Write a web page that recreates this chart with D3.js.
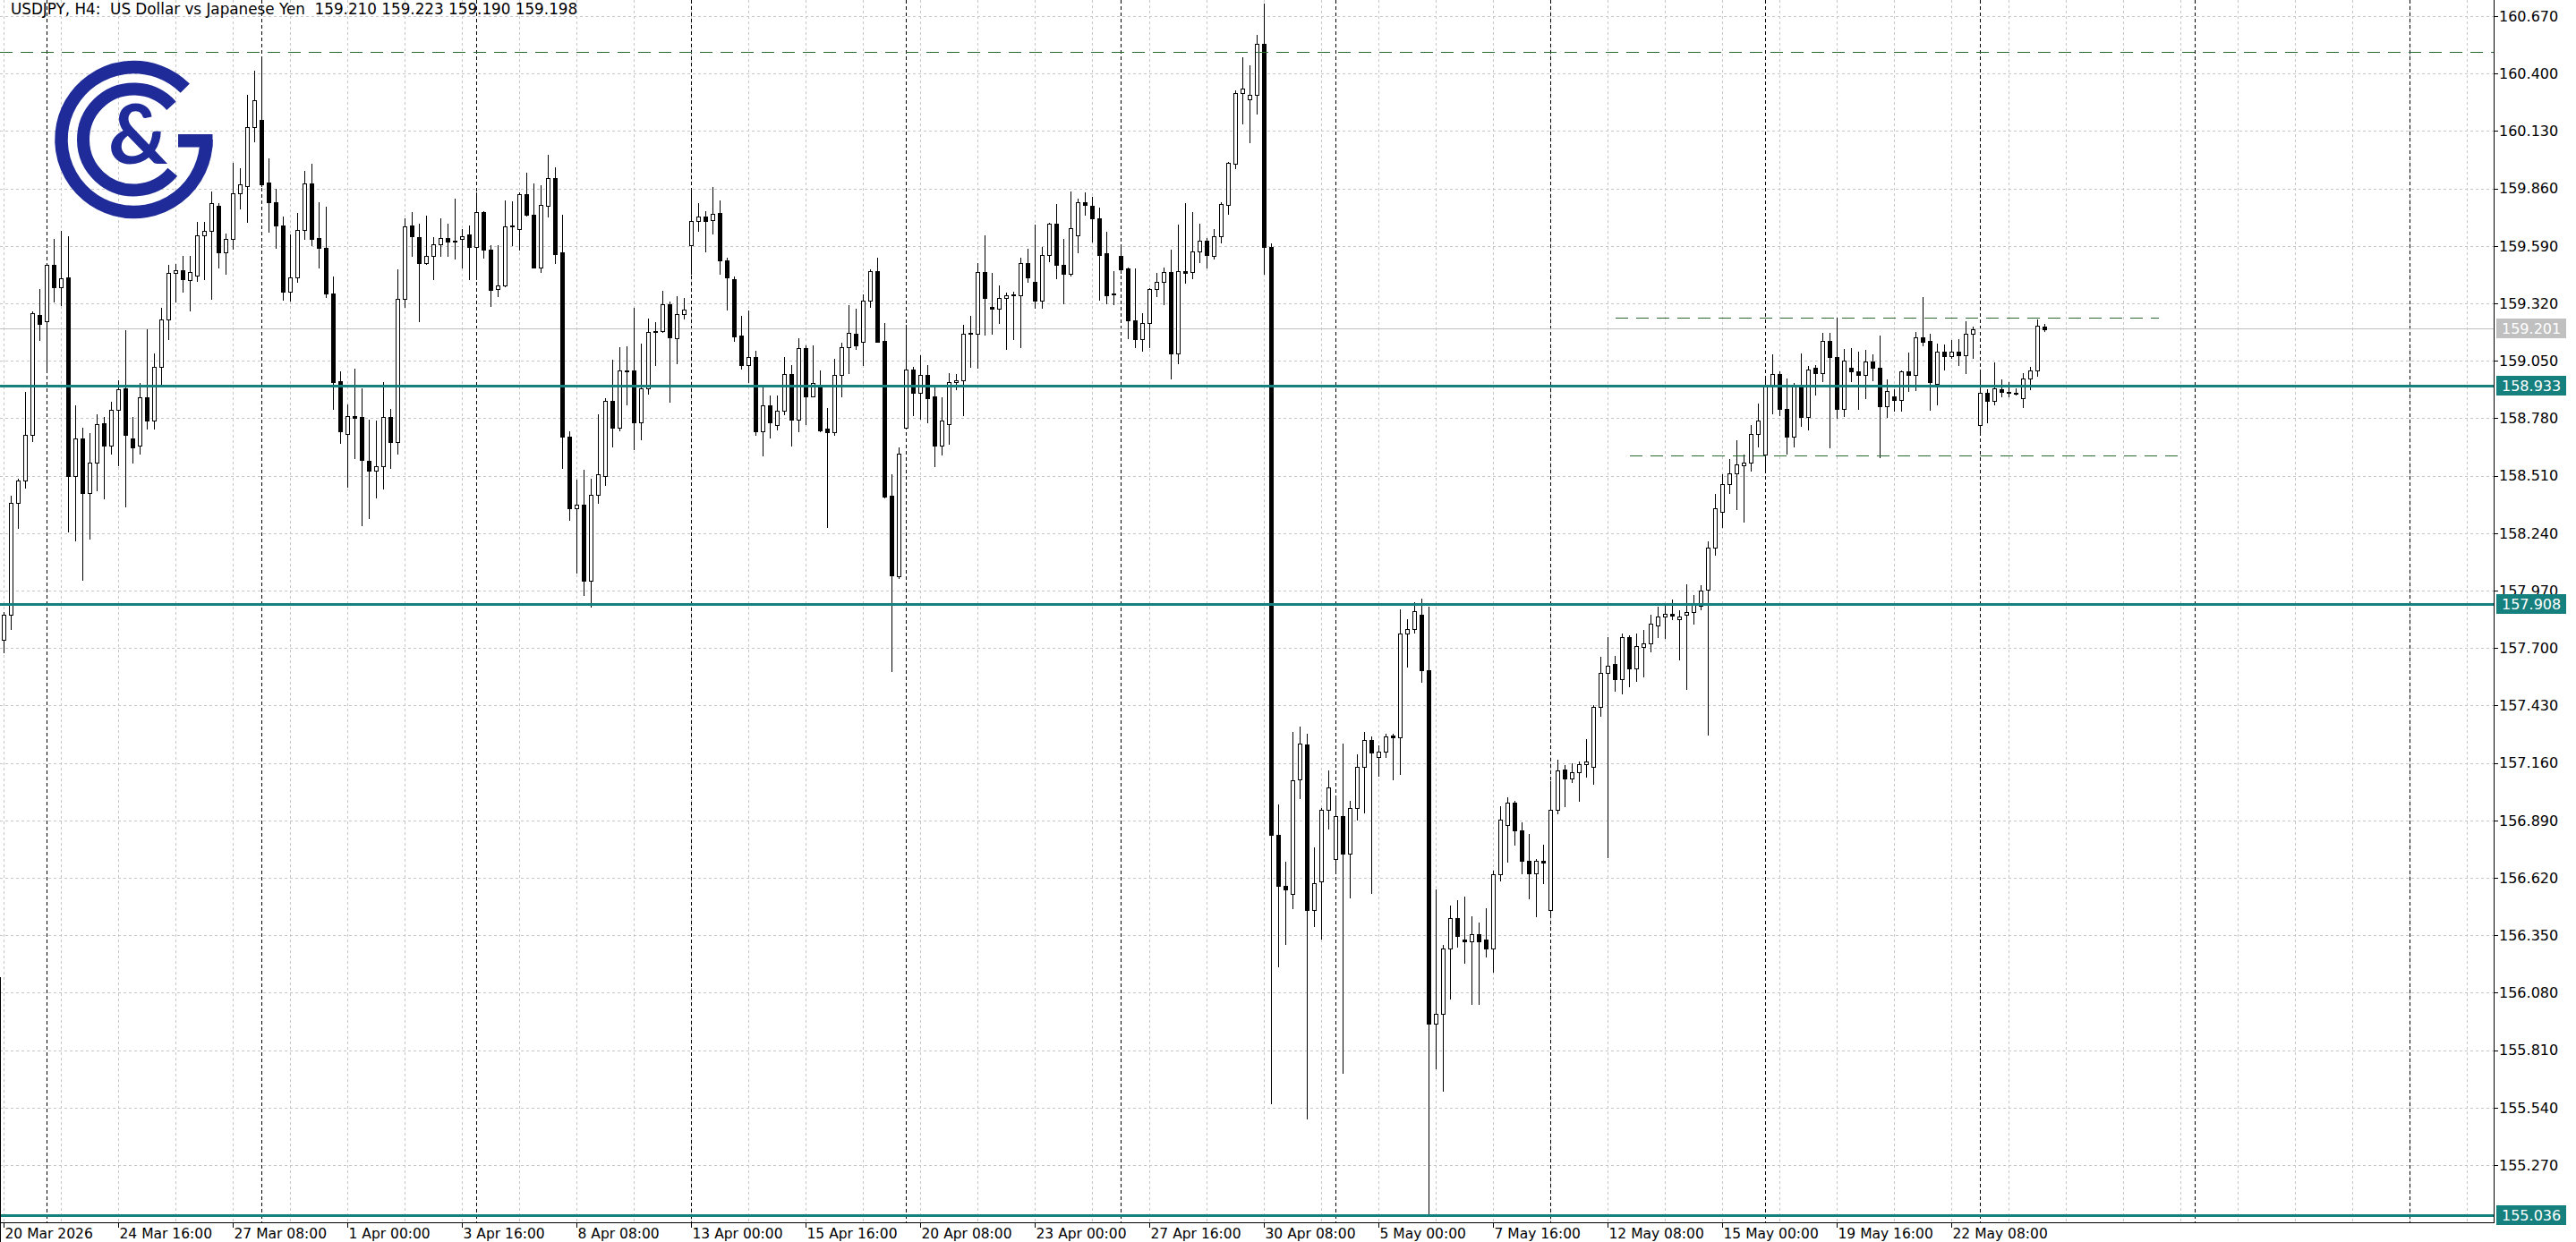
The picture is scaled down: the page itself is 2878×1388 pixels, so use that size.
<!DOCTYPE html>
<html><head><meta charset="utf-8">
<script src="https://cdn.jsdelivr.net/npm/d3@7"></script>
<style>html,body{margin:0;padding:0;background:#fff;overflow:hidden}</style>
</head><body>
<svg id="chart" width="2878" height="1388"></svg>
<script>
// ---------------- DATA ----------------
const chartTitle = "USDJPY, H4:  US Dollar vs Japanese Yen  159.210 159.223 159.190 159.198";
const timeLabels = ["20 Mar 2026","24 Mar 16:00","27 Mar 08:00","1 Apr 00:00","3 Apr 16:00","8 Apr 08:00",
  "13 Apr 00:00","15 Apr 16:00","20 Apr 08:00","23 Apr 00:00","27 Apr 16:00","30 Apr 08:00",
  "5 May 00:00","7 May 16:00","12 May 08:00","15 May 00:00","19 May 16:00","22 May 08:00"];
const timeLabelBars = [0,16,32,48,64,80,96,112,128,144,160,176,192,208,224,240,256,272];
const priceTicks = [160.670,160.400,160.130,159.860,159.590,159.320,159.050,158.780,158.510,158.240,
  157.970,157.700,157.430,157.160,156.890,156.620,156.350,156.080,155.810,155.540,155.270];

const opens = [
157.740,157.858,158.381,158.487,158.700,159.267,159.236,159.502,159.396,159.444,
158.508,158.686,158.429,158.570,158.758,158.652,158.818,158.921,158.686,158.650,
158.880,158.771,159.022,159.245,159.461,159.474,159.431,159.450,159.639,159.662,
159.780,159.559,159.621,159.839,159.873,160.149,160.184,159.887,159.794,159.688,
159.373,159.444,159.664,159.882,159.628,159.579,159.368,158.955,158.708,158.790,
158.786,158.580,158.532,158.553,158.786,158.670,159.343,159.684,159.631,159.511,
159.541,159.598,159.625,159.609,159.621,159.643,159.583,159.748,159.571,159.388,
159.406,159.681,159.669,159.834,159.738,159.490,159.778,159.908,159.558,158.694,
158.356,158.374,158.015,158.421,158.507,158.862,158.736,159.005,159.005,158.762,
158.919,159.187,159.190,159.317,159.157,159.268,159.592,159.705,159.726,159.711,
159.745,159.523,159.433,159.167,159.028,159.067,158.717,158.840,158.747,158.817,
158.988,158.774,159.108,158.882,158.930,158.730,158.714,158.983,159.112,159.176,
159.141,159.332,159.471,159.144,158.415,158.038,158.734,159.010,158.898,158.983,
158.882,158.650,158.753,158.951,158.959,159.176,159.176,159.466,159.302,159.294,
159.345,159.361,159.358,159.509,159.422,159.332,159.546,159.694,159.503,159.457,
159.639,159.795,159.777,159.721,159.555,159.367,159.541,159.484,159.239,159.151,
159.229,159.387,159.420,159.469,159.083,159.472,159.466,159.562,159.616,159.544,
159.634,159.781,159.975,160.310,160.277,160.300,160.538,159.586,156.822,156.581,
156.543,157.084,157.245,156.471,156.602,156.941,156.710,156.910,156.733,156.948,
157.143,157.269,157.190,157.214,157.290,157.279,157.769,157.791,157.857,157.595,
155.933,155.981,156.286,156.429,156.329,156.322,156.357,156.329,156.286,156.636,
156.869,156.972,156.845,156.702,156.643,156.700,156.470,156.938,157.128,157.087,
157.115,157.156,157.141,157.424,157.585,157.624,157.554,157.752,157.604,157.707,
157.720,157.807,157.850,157.859,157.837,157.856,157.868,157.900,157.974,158.170,
158.340,158.470,158.520,158.559,158.572,158.707,158.609,158.936,158.988,158.825,
158.692,158.929,158.784,159.017,158.994,159.144,159.066,158.822,159.019,159.001,
158.982,159.045,159.017,158.837,158.881,158.865,159.001,158.982,159.162,159.143,
158.940,159.092,159.071,159.092,159.078,159.176,158.748,158.898,158.860,158.915,
158.902,158.898,158.874,158.968,159.003,159.210];

const highs = [
157.870,158.416,158.496,158.903,159.284,159.387,159.510,159.621,159.662,159.635,
158.841,158.735,158.709,158.797,158.785,158.859,158.957,159.192,158.788,158.944,
159.199,159.086,159.298,159.500,159.506,159.541,159.541,159.704,159.704,159.846,
159.790,159.647,159.979,159.954,160.299,160.413,160.468,160.002,159.860,159.729,
159.643,159.744,159.942,159.977,159.794,159.774,159.448,159.001,158.843,159.012,
158.921,158.775,158.768,158.948,158.823,159.478,159.718,159.748,159.694,159.733,
159.631,159.718,159.694,159.812,159.669,159.688,159.842,159.755,159.594,159.594,
159.804,159.800,159.842,159.933,159.884,159.876,160.020,159.959,159.735,158.717,
158.491,158.536,158.496,158.799,158.874,159.054,159.112,159.119,159.298,159.130,
159.247,159.232,159.377,159.329,159.352,159.344,159.854,159.791,159.753,159.866,
159.803,159.535,159.445,159.262,159.287,159.097,158.927,158.886,158.886,159.068,
159.028,159.157,159.124,159.124,159.004,158.827,159.059,159.133,159.313,159.294,
159.361,159.482,159.535,159.227,158.516,158.645,159.219,159.023,159.076,159.028,
158.930,158.878,158.994,158.988,159.219,159.261,159.511,159.640,159.461,159.405,
159.369,159.374,159.535,159.578,159.691,159.586,159.699,159.785,159.624,159.845,
159.812,159.840,159.819,159.772,159.657,159.472,159.592,159.490,159.484,159.274,
159.390,159.462,159.487,159.574,159.691,159.792,159.751,159.694,159.627,159.669,
159.797,159.985,160.322,160.475,160.438,160.583,160.728,159.600,156.964,156.695,
157.305,157.329,157.298,156.762,156.948,157.124,157.000,157.250,156.983,157.202,
157.305,157.286,157.243,157.298,157.298,157.881,157.834,157.917,157.933,157.893,
156.567,156.305,156.488,156.517,156.531,156.441,156.410,156.476,156.655,156.957,
157.000,156.981,156.881,156.826,156.710,156.774,157.073,157.174,157.150,157.160,
157.165,157.271,157.433,157.659,157.752,157.665,157.767,157.760,157.770,157.785,
157.855,157.896,157.900,157.928,157.878,157.998,157.948,157.994,158.202,158.424,
158.516,158.590,158.677,158.609,158.747,158.849,158.966,159.080,159.001,158.966,
158.947,159.084,159.025,159.029,159.183,159.183,159.253,159.106,159.108,159.092,
159.101,159.080,159.169,158.963,158.916,159.003,159.087,159.187,159.348,159.176,
159.131,159.127,159.148,159.152,159.235,159.211,158.994,158.916,159.043,158.963,
158.949,158.921,158.994,159.022,159.246,159.223];

const lows = [
157.680,157.790,158.266,158.452,158.673,159.146,159.004,159.329,159.311,158.248,
158.204,158.021,158.216,158.443,158.402,158.615,158.558,158.367,158.570,158.615,
158.730,158.730,158.939,159.151,159.329,159.376,159.288,159.426,159.435,159.343,
159.488,159.458,159.577,159.766,159.704,160.081,159.870,159.658,159.579,159.338,
159.331,159.421,159.624,159.594,159.489,159.349,158.823,158.663,158.457,158.592,
158.277,158.310,158.407,158.448,158.547,158.613,159.304,159.544,159.238,159.504,
159.433,159.541,159.544,159.529,159.489,159.433,159.433,159.534,159.308,159.353,
159.398,159.594,159.574,159.733,159.487,159.468,159.730,159.508,158.548,158.301,
158.056,157.951,157.895,158.383,158.466,158.649,158.721,158.844,158.634,158.679,
158.894,159.028,159.187,158.859,159.037,159.247,159.460,159.660,159.562,159.648,
159.460,159.292,159.145,159.014,158.949,158.702,158.607,158.691,158.727,158.800,
158.650,158.717,158.753,158.882,158.717,158.270,158.701,158.882,158.991,159.104,
159.028,159.305,159.140,158.407,157.591,158.030,158.730,158.795,158.779,158.762,
158.556,158.608,158.661,158.918,158.795,159.023,159.018,159.171,159.176,159.229,
159.107,159.152,159.115,159.422,159.300,159.300,159.517,159.439,159.319,159.450,
159.559,159.736,159.609,159.338,159.319,159.316,159.462,159.154,159.116,159.098,
159.112,159.352,159.314,158.966,159.037,159.417,159.436,159.514,159.489,159.532,
159.607,159.742,159.957,160.167,160.077,160.212,159.457,155.559,156.202,156.310,
156.476,156.995,155.488,156.393,156.333,156.852,156.655,155.702,156.529,156.893,
156.929,156.548,157.100,157.186,157.083,157.107,157.612,157.774,157.543,155.036,
155.726,155.619,156.052,156.298,156.219,156.029,156.029,156.250,156.179,156.607,
156.695,156.774,156.643,156.524,156.441,156.595,156.440,156.925,156.956,157.069,
156.984,157.097,157.063,157.382,156.717,157.498,157.485,157.522,157.545,157.567,
157.683,157.752,157.748,157.837,157.646,157.508,157.813,157.881,157.295,158.140,
158.270,158.429,158.353,158.294,158.535,158.649,158.525,158.803,158.794,158.614,
158.649,158.744,158.729,158.893,158.954,158.643,158.780,158.790,158.954,158.822,
158.874,158.959,158.598,158.786,158.814,158.814,158.907,158.912,159.124,158.821,
158.846,159.008,159.064,159.029,158.994,159.064,158.720,158.762,158.846,158.884,
158.884,158.893,158.832,158.916,158.980,159.190];

const closes = [
157.858,158.381,158.487,158.700,159.272,159.222,159.502,159.396,159.438,158.508,
158.686,158.429,158.570,158.753,158.652,158.818,158.918,158.700,158.643,158.880,
158.771,159.022,159.245,159.461,159.474,159.435,159.467,159.639,159.662,159.789,
159.559,159.621,159.839,159.878,160.149,160.273,159.880,159.794,159.688,159.373,
159.444,159.664,159.882,159.624,159.579,159.368,158.952,158.718,158.790,158.783,
158.583,158.532,158.553,158.786,158.670,159.343,159.681,159.634,159.511,159.541,
159.598,159.625,159.609,159.616,159.634,159.583,159.748,159.571,159.384,159.406,
159.681,159.684,159.834,159.738,159.490,159.783,159.908,159.553,158.694,158.356,
158.374,158.015,158.421,158.517,158.862,158.736,159.005,158.999,158.762,158.922,
159.187,159.190,159.317,159.160,159.268,159.292,159.705,159.726,159.708,159.742,
159.523,159.441,159.164,159.028,159.067,158.717,158.840,158.762,158.817,158.988,
158.774,159.108,158.882,158.947,158.725,158.714,158.983,159.112,159.181,159.124,
159.332,159.471,159.141,158.412,158.041,158.613,159.007,158.898,158.983,158.875,
158.653,158.769,158.951,158.959,159.176,159.180,159.466,159.345,159.294,159.345,
159.356,159.356,159.509,159.442,159.332,159.546,159.694,159.502,159.457,159.672,
159.795,159.781,159.721,159.549,159.356,159.361,159.481,159.239,159.151,159.229,
159.387,159.420,159.466,159.083,159.472,159.462,159.562,159.616,159.549,159.634,
159.787,159.980,160.310,160.328,160.298,160.538,159.586,156.822,156.583,156.567,
157.079,157.250,156.471,156.595,156.941,157.043,156.910,156.733,156.948,157.143,
157.269,157.207,157.214,157.286,157.281,157.769,157.791,157.874,157.595,155.933,
155.981,156.286,156.429,156.345,156.322,156.357,156.322,156.286,156.636,156.893,
156.972,156.845,156.702,156.643,156.702,156.690,156.938,157.123,157.087,157.115,
157.156,157.165,157.424,157.585,157.619,157.554,157.752,157.604,157.711,157.724,
157.813,157.850,157.859,157.852,157.850,157.868,157.902,157.970,158.170,158.355,
158.470,158.520,158.562,158.572,158.707,158.770,158.936,158.988,158.825,158.692,
158.936,158.784,159.010,158.994,159.144,159.066,158.822,159.050,159.001,158.982,
159.045,159.017,158.837,158.907,158.865,159.001,158.982,159.162,159.141,158.951,
159.092,159.071,159.092,159.078,159.176,159.197,158.898,158.860,158.921,158.902,
158.898,158.895,158.968,159.003,159.214,159.198];

const levelPrices = [158.933, 157.908, 155.036];   // teal horizontal levels
const bidPrice = 159.201;                           // current bid line
const resistancePrice = 160.503;                    // long dashed level
const rangeTopPrice = 159.252, rangeTopBars = [225.0, 300.9];
const rangeBottomPrice = 158.607, rangeBottomBars = [227.1, 304.2];

// ---------------- DRAW ----------------
const W = 2878, H = 1388, plotR = 2786, plotB = 1366;
const FONT = "'DejaVu Sans', Verdana, sans-serif";
const TEAL = "#16807e", LINEDASH = "#2a6a32";
const svg = d3.select("#chart");

const x = d3.scaleLinear().domain([0, 1]).range([4.5, 12.5]);
const y = d3.scaleLinear().domain([155.27, 160.67]).range([1302.1, 18]);
const py = v => Math.round(y(v)) + 0.5;

svg.append("rect").attr("width", W).attr("height", H).attr("fill", "#fff");

const grid = svg.append("g").attr("shape-rendering", "crispEdges");
grid.selectAll("line.h").data(priceTicks).join("line").attr("class", "h")
  .attr("x1", 0).attr("x2", plotR).attr("y1", d => py(d)).attr("y2", d => py(d))
  .attr("stroke", "#c6c6c6").attr("stroke-dasharray", "3,3");
const maxBar = Math.floor(x.invert(plotR));
const gridBars = d3.range(0, maxBar + 1, 8);
grid.selectAll("line.v").data(gridBars).join("line").attr("class", "v")
  .attr("x1", d => x(d)).attr("x2", d => x(d)).attr("y1", 0).attr("y2", plotB)
  .attr("stroke", "#c6c6c6").attr("stroke-dasharray", "3,3");
const weekBars = d3.range(6, maxBar + 1, 30);
grid.selectAll("line.s").data(weekBars).join("line").attr("class", "s")
  .attr("x1", d => x(d)).attr("x2", d => x(d)).attr("y1", 0).attr("y2", plotB)
  .attr("stroke", "#000").attr("stroke-dasharray", "4,3");

// logo
const logo = svg.append("g").attr("fill", "none").attr("stroke", "#1f2b98");
const lcx = 149.5, lcy = 156;
const pt = (r, a) => [lcx + r * Math.cos(a * Math.PI / 180), lcy + r * Math.sin(a * Math.PI / 180)];
{
  const r1 = 81, a = pt(r1, -45), b = pt(r1, 0);
  logo.append("path").attr("d", `M${a[0]},${a[1]}A${r1},${r1} 0 1 0 ${b[0]},${b[1]}`).attr("stroke-width", 14.5);
  logo.append("rect").attr("x", 199).attr("y", 150).attr("width", 38.5).attr("height", 14.5)
    .attr("fill", "#1f2b98").attr("stroke", "none");
  const r2 = 56.5, c = pt(r2, -42), e = pt(r2, 40);
  logo.append("path").attr("d", `M${c[0]},${c[1]}A${r2},${r2} 0 1 0 ${e[0]},${e[1]}`).attr("stroke-width", 14);
  logo.append("text").attr("x", 154).attr("y", 183).attr("text-anchor", "middle")
    .attr("font-family", "Lato, 'DejaVu Sans', sans-serif").attr("font-weight", 700)
    .attr("font-size", 92).attr("fill", "#1f2b98").attr("stroke", "none").text("&");
}

// bid line
svg.append("line").attr("x1", 0).attr("x2", plotR).attr("y1", py(bidPrice)).attr("y2", py(bidPrice))
  .attr("stroke", "#c0c0c0").attr("shape-rendering", "crispEdges");

// candles
const bars = d3.range(opens.length);
const cg = svg.append("g").attr("shape-rendering", "crispEdges");
cg.selectAll("line.wick").data(bars).join("line").attr("class", "wick")
  .attr("x1", i => x(i)).attr("x2", i => x(i))
  .attr("y1", i => Math.round(y(highs[i]))).attr("y2", i => Math.round(y(lows[i])) + 1)
  .attr("stroke", "#000");
cg.selectAll("path.body").data(bars).join("path").attr("class", "body")
  .attr("d", i => {
    const top = Math.round(y(Math.max(opens[i], closes[i]))) + 0.5;
    const bot = Math.round(y(Math.min(opens[i], closes[i]))) + 0.5;
    return `M${x(i) - 2},${top}h4V${bot}h-4Z`;
  })
  .attr("fill", i => closes[i] >= opens[i] ? "#fff" : "#000").attr("stroke", "#000");

// dashed levels
const dl = svg.append("g").attr("stroke", LINEDASH).attr("stroke-dasharray", "14,9").attr("shape-rendering", "crispEdges");
dl.append("line").attr("x1", 0).attr("x2", plotR).attr("y1", py(resistancePrice)).attr("y2", py(resistancePrice));
dl.append("line").attr("x1", x(rangeTopBars[0])).attr("x2", x(rangeTopBars[1]))
  .attr("y1", py(rangeTopPrice)).attr("y2", py(rangeTopPrice));
dl.append("line").attr("x1", x(rangeBottomBars[0])).attr("x2", x(rangeBottomBars[1]))
  .attr("y1", py(rangeBottomPrice)).attr("y2", py(rangeBottomPrice));

// teal levels
svg.append("g").selectAll("line").data(levelPrices).join("line")
  .attr("x1", 0).attr("x2", plotR).attr("y1", d => py(d)).attr("y2", d => py(d))
  .attr("stroke", TEAL).attr("stroke-width", 3).attr("shape-rendering", "crispEdges");

// axes
const ax = svg.append("g").attr("shape-rendering", "crispEdges");
ax.append("line").attr("x1", plotR + 0.5).attr("x2", plotR + 0.5).attr("y1", 0).attr("y2", plotB + 1).attr("stroke", "#000");
ax.append("line").attr("x1", 0).attr("x2", plotR + 1).attr("y1", plotB + 0.5).attr("y2", plotB + 0.5).attr("stroke", "#000");
ax.selectAll("line.yt").data(priceTicks).join("line").attr("class", "yt")
  .attr("x1", plotR).attr("x2", plotR + 5).attr("y1", d => py(d)).attr("y2", d => py(d)).attr("stroke", "#000");
ax.selectAll("line.xt").data(timeLabelBars).join("line").attr("class", "xt")
  .attr("x1", d => x(d)).attr("x2", d => x(d)).attr("y1", plotB).attr("y2", plotB + 6).attr("stroke", "#000");
ax.append("line").attr("x1", 0.5).attr("x2", 0.5).attr("y1", 1092).attr("y2", H).attr("stroke", "#000");

svg.append("g").selectAll("text").data(priceTicks).join("text")
  .attr("x", 2792).attr("y", d => y(d)).attr("dy", "0.36em")
  .attr("font-family", FONT).attr("font-size", 16).attr("fill", "#000")
  .text(d => d.toFixed(3));
svg.append("g").selectAll("text").data(timeLabelBars).join("text")
  .attr("x", d => x(d) + 1).attr("y", 1384)
  .attr("font-family", FONT).attr("font-size", 15.5).attr("fill", "#000")
  .text((d, k) => timeLabels[k]);

// price boxes
function priceBox(p, fill) {
  const g = svg.append("g");
  g.append("rect").attr("x", 2789).attr("y", Math.round(y(p)) - 11).attr("width", 78).attr("height", 22).attr("fill", fill);
  g.append("text").attr("x", 2795).attr("y", y(p)).attr("dy", "0.36em")
    .attr("font-family", FONT).attr("font-size", 16).attr("fill", "#fff").text(p.toFixed(3));
}
priceBox(bidPrice, "#c0c0c0");
levelPrices.forEach(p => priceBox(p, TEAL));

// title
svg.append("text").attr("x", 12).attr("y", 16).attr("font-family", FONT).attr("font-size", 16.8)
  .attr("fill", "#000").style("white-space", "pre").text(chartTitle);
</script>
</body></html>
